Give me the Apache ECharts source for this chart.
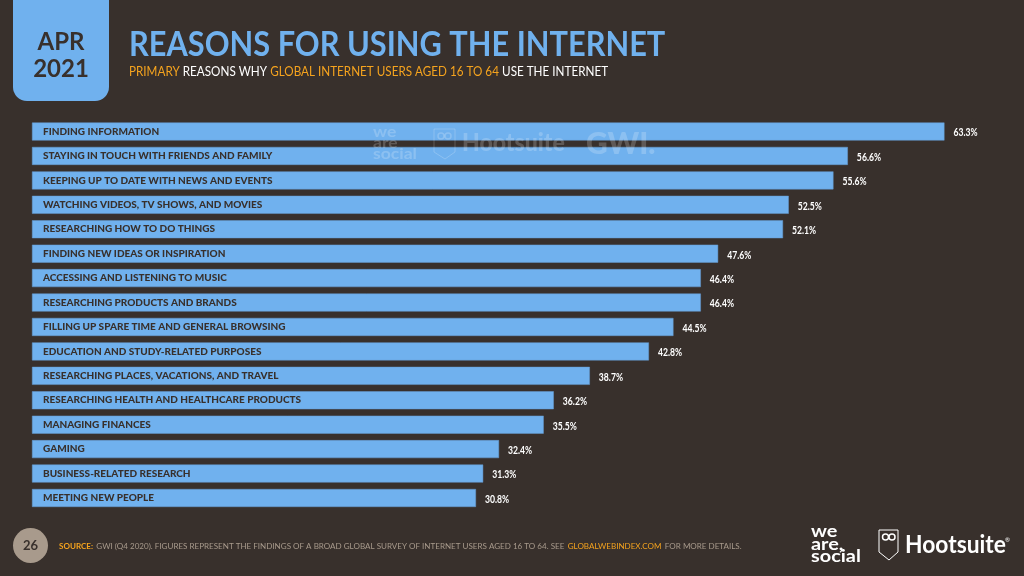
<!DOCTYPE html>
<html>
<head>
<meta charset="utf-8">
<style>
  html, body { margin: 0; padding: 0; background: #38302c; }
  #chart { width: 1024px; height: 576px; }
</style>
<script src="https://cdn.jsdelivr.net/npm/echarts@6/dist/echarts.min.js"></script>
</head>
<body>
<div id="chart"></div>
<script>
const categories = [
  'FINDING INFORMATION',
  'STAYING IN TOUCH WITH FRIENDS AND FAMILY',
  'KEEPING UP TO DATE WITH NEWS AND EVENTS',
  'WATCHING VIDEOS, TV SHOWS, AND MOVIES',
  'RESEARCHING HOW TO DO THINGS',
  'FINDING NEW IDEAS OR INSPIRATION',
  'ACCESSING AND LISTENING TO MUSIC',
  'RESEARCHING PRODUCTS AND BRANDS',
  'FILLING UP SPARE TIME AND GENERAL BROWSING',
  'EDUCATION AND STUDY-RELATED PURPOSES',
  'RESEARCHING PLACES, VACATIONS, AND TRAVEL',
  'RESEARCHING HEALTH AND HEALTHCARE PRODUCTS',
  'MANAGING FINANCES',
  'GAMING',
  'BUSINESS-RELATED RESEARCH',
  'MEETING NEW PEOPLE'
]
const values = [63.3, 56.6, 55.6, 52.5, 52.1, 47.6, 46.4, 46.4, 44.5, 42.8, 38.7, 36.2, 35.5, 32.4, 31.3, 30.8]

const BG = '#38302c'
const BLUE = '#70b1ee'
const ORANGE = '#f5a31e'
const FONT = 'Lato, "Noto Sans", sans-serif'
const WATERMARK = 'rgba(255,255,255,0.2)'

let chart = echarts.init(document.getElementById('chart'), null, { renderer: 'canvas' })

// text helper for the page furniture around the plot
function label (x, y, text, size, color, weight, extra, scaleX) {
  return {
    type: 'text',
    x: x,
    y: y,
    z: 10,
    scaleX: scaleX || 1,
    style: Object.assign({
      text: text,
      fill: color,
      font: (weight || 'normal') + ' ' + size + 'px ' + FONT,
      textVerticalAlign: 'middle'
    }, extra || {})
  }
}

// condensed value label, placed from the axis scales
function renderValue (params, api) {
  let end = api.coord([api.value(0), api.value(1)])
  return {
    type: 'text',
    x: end[0] + 9,
    y: end[1] + 1,
    scaleX: 0.72,
    style: {
      text: api.value(0).toFixed(1) + '%',
      fill: '#ffffff',
      font: 'bold 12px ' + FONT,
      textVerticalAlign: 'middle'
    }
  }
}

chart.setOption({
  animation: false,
  backgroundColor: BG,
  grid: { left: 32, top: 119.3, width: 980.2, height: 390.9 },
  xAxis: { type: 'value', min: 0, max: 68, show: false },
  yAxis: {
    type: 'category',
    data: categories,
    inverse: true,
    z: 5,
    axisLine: { show: false },
    axisTick: { show: false },
    axisLabel: {
      inside: true,
      margin: 11,
      color: '#38302c',
      fontFamily: FONT,
      fontWeight: 900,
      fontSize: 10,
      padding: [3, 0, 0, 0]
    }
  },
  series: [
    {
      type: 'bar',
      data: values,
      barWidth: 18,
      itemStyle: { color: BLUE, borderColor: '#659ad0', borderWidth: 0.5 }
    },
    {
      type: 'custom',
      clip: false,
      z: 6,
      data: values.map((v, i) => [v, i]),
      encode: { x: 0, y: 1 },
      renderItem: renderValue
    }
  ],
  graphic: [
    // date badge
    { type: 'rect', z: 9, shape: { x: 13, y: -20, width: 96, height: 121, r: 14 }, style: { fill: BLUE } },
    label(61, 42, 'APR', 24, BG, 'bold', { textAlign: 'center' }),
    label(61, 69, '2021', 24, BG, 'bold', { textAlign: 'center' }),
    // heading
    label(129, 45, 'REASONS FOR USING THE INTERNET', 34, BLUE, 'bold', null, 0.905),
    {
      type: 'text',
      x: 129,
      y: 72,
      z: 10,
      scaleX: 0.935,
      style: {
        text: '{o|PRIMARY} {w|REASONS WHY} {o|GLOBAL INTERNET USERS AGED 16 TO 64} {w|USE THE INTERNET}',
        textVerticalAlign: 'middle',
        rich: {
          o: { fill: ORANGE, font: '12.5px ' + FONT },
          w: { fill: '#ffffff', font: '12.5px ' + FONT }
        }
      }
    },
    // watermark over the first bars
    label(373, 132, 'we', 15, WATERMARK, 'bold', null, 1.17),
    label(373, 143, 'are', 15, WATERMARK, 'bold', null, 1.17),
    label(373, 154, 'social', 15, WATERMARK, 'bold', null, 1.17),
    {
      type: 'polygon',
      z: 10,
      shape: { points: [[434, 129], [455, 129], [455, 152], [445, 159], [434, 152]] },
      style: { fill: 'none', stroke: WATERMARK, lineWidth: 1 }
    },
    { type: 'circle', z: 10, shape: { cx: 441, cy: 136, r: 3 }, style: { fill: 'none', stroke: WATERMARK, lineWidth: 1.5 } },
    { type: 'circle', z: 10, shape: { cx: 448, cy: 136, r: 3 }, style: { fill: 'none', stroke: WATERMARK, lineWidth: 1.5 } },
    label(462, 143, 'Hootsuite', 24, WATERMARK, 900, null, 0.96),
    label(586, 144, 'GWI.', 30, WATERMARK, 900),
    // footer
    { type: 'circle', z: 9, shape: { cx: 30.5, cy: 545.5, r: 17.5 }, style: { fill: '#a89a8c' } },
    label(30.5, 546, '26', 13, BG, 'bold', { textAlign: 'center' }),
    {
      type: 'text',
      x: 59,
      y: 546,
      z: 10,
      scaleX: 1.006,
      style: {
        text: '{b|SOURCE:} {g|GWI (Q4 2020). FIGURES REPRESENT THE FINDINGS OF A BROAD GLOBAL SURVEY OF INTERNET USERS AGED 16 TO 64. SEE} {o|GLOBALWEBINDEX.COM} {g|FOR MORE DETAILS.}',
        textVerticalAlign: 'middle',
        rich: {
          b: { fill: ORANGE, font: 'bold 8px ' + FONT },
          o: { fill: ORANGE, font: '8px ' + FONT },
          g: { fill: '#a89a8c', font: '8px ' + FONT }
        }
      }
    },
    label(811, 532, 'we', 17, '#ffffff', 'bold', null, 1.17),
    label(811, 545, 'are,', 17, '#ffffff', 'bold', null, 1.17),
    label(811, 557, 'social', 17, '#ffffff', 'bold', null, 1.17),
    {
      type: 'polygon',
      z: 10,
      shape: { points: [[879, 530], [898, 530], [898, 552], [889, 560], [879, 552]] },
      style: { fill: 'none', stroke: '#ffffff', lineWidth: 1 }
    },
    { type: 'circle', z: 10, shape: { cx: 885.5, cy: 537, r: 3 }, style: { fill: 'none', stroke: '#ffffff', lineWidth: 1.5 } },
    { type: 'circle', z: 10, shape: { cx: 892, cy: 537, r: 3 }, style: { fill: 'none', stroke: '#ffffff', lineWidth: 1.5 } },
    label(905, 545, 'Hootsuite', 24, '#ffffff', 'bold', null, 0.95),
    label(1005, 540, '®', 6, '#ffffff')
  ]
})
</script>
</body>
</html>
